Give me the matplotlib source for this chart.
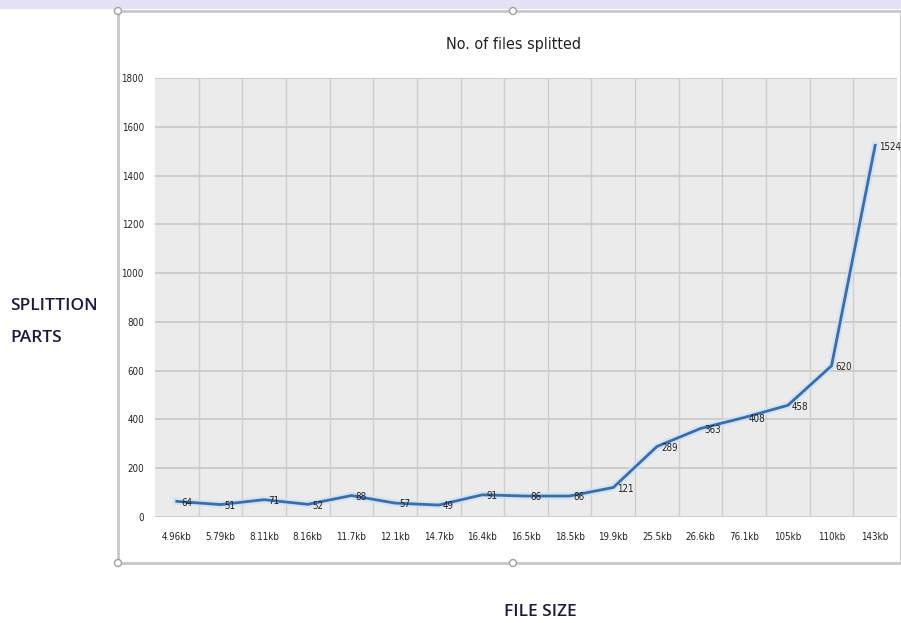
import matplotlib
matplotlib.use("Agg")
import matplotlib.pyplot as plt
from matplotlib.patches import Rectangle, Circle

# file sizes and the number of parts each file was split into
file_sizes = ["4.96kb", "5.79kb", "8.11kb", "8.16kb", "11.7kb", "12.1kb", "14.7kb",
              "16.4kb", "16.5kb", "18.5kb", "19.9kb", "25.5kb", "26.6kb", "76.1kb",
              "105kb", "110kb", "143kb"]
parts = [64, 51, 71, 52, 88, 57, 49, 91, 86, 86, 121, 289, 363, 408, 458, 620, 1524]
y_ticks = [0, 200, 400, 600, 800, 1000, 1200, 1400, 1600, 1800]

small = dict(fontsize=7, family="DejaVu Sans", fontstretch="condensed", color="#222222")

W, H = 901, 623
fig = plt.figure(figsize=(W / 100, H / 100), dpi=100)

# chart area frame
frame = fig.add_axes([0, 0, 1, 1])
frame.set_xlim(0, W)
frame.set_ylim(H, 0)
frame.axis("off")
frame.add_patch(Rectangle((0, 0), W, 9, color="#e4e2f4", lw=0))
frame.add_patch(Rectangle((118, 11), W - 118, 552, fill=False, ec="#c8c8c8", lw=2))
for cx, cy in [(118, 11), (513, 11), (118, 563), (513, 563)]:
    frame.add_patch(Circle((cx, cy), 3.5, fc="white", ec="#a0a0a0", lw=1))

ax = fig.add_axes([155 / W, 1 - 517 / H, (897 - 155) / W, (517 - 78) / H])
x = list(range(len(file_sizes)))
ax.set_facecolor("#ebebeb")
ax.plot(x, parts, color="#c9e3f7", lw=5, alpha=0.8, solid_joinstyle="round")
ax.plot(x, parts, color="#3f6ca6", lw=2, solid_joinstyle="round")

ax.set_xlim(-0.5, len(file_sizes) - 0.5)
ax.set_ylim(0, 1800)
ax.set_yticks(y_ticks)
ax.set_yticklabels([str(v) for v in y_ticks], **small)
ax.set_xticks(x)
ax.set_xticklabels(file_sizes, **small)
ax.set_xticks([i + 0.5 for i in x[:-1]], minor=True)
ax.tick_params(axis="both", which="both", length=0)
ax.tick_params(axis="x", pad=11)
ax.tick_params(axis="y", pad=8)
ax.grid(True, axis="y", which="major", color="#c8c8c8", lw=1.2)
ax.grid(True, axis="x", which="minor", color="#cfcfcf", lw=1)
for s in ax.spines.values():
    s.set_visible(False)

for xi, v in zip(x, parts):
    ax.annotate(str(v), (xi, v), xytext=(3, -1), textcoords="offset points",
                va="center", **small)

fig.text(513 / W, 1 - 45 / H, "No. of files splitted", ha="center", va="center",
         fontsize=11.5, family="DejaVu Sans", fontstretch="condensed", color="#222222")
label = dict(fontsize=12.5, family="Open Sans", fontweight="semibold", color="#1c1c3a")
fig.text(10 / W, 1 - 306 / H, "SPLITTION", ha="left", va="center", **label)
fig.text(10 / W, 1 - 338 / H, "PARTS", ha="left", va="center", **label)
fig.text(540 / W, 1 - 612 / H, "FILE SIZE", ha="center", va="center", **label)

fig.savefig("out.png", dpi=100)
